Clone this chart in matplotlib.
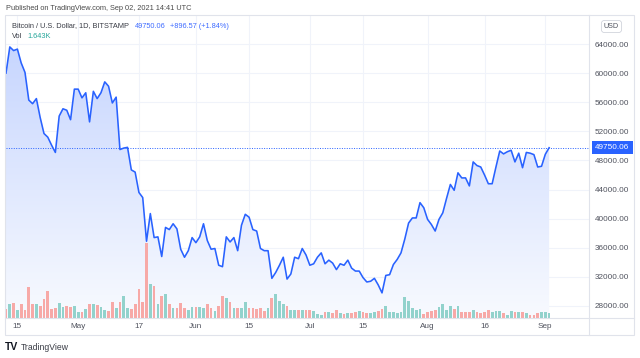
import numpy as np
import pandas as pd
import matplotlib
matplotlib.use("Agg")
import matplotlib.pyplot as plt
import matplotlib.dates as mdates
from matplotlib.colors import LinearSegmentedColormap
from matplotlib.patches import Rectangle
from matplotlib.lines import Line2D

plt.rcParams['font.family'] = ['Liberation Sans', 'DejaVu Sans']

W, H = 640, 358

# daily closes BTC/USD (Bitstamp), 12 Apr - 2 Sep 2021
dates = pd.date_range('2021-04-12', '2021-09-02', freq='D')
close = [
    # Apr 12-30
    60000, 63600, 63100, 63300, 61400, 60100, 56300, 55800, 56500, 53900,
    51700, 51200, 50100, 49100, 54100, 55100, 54900, 53600, 57800,
    # May
    57800, 56600, 57300, 53300, 57500, 56500, 57300, 58800, 58200, 55900,
    56700, 49500, 49700, 49800, 46700, 46400, 43600, 42900, 36900, 40700,
    37400, 37500, 34800, 38800, 38500, 39300, 38600, 35800, 34700, 35600, 37400,
    # Jun
    36700, 37500, 39300, 37000, 35800, 35900, 33600, 33400, 37500, 36800,
    37400, 35600, 39100, 40600, 40200, 38500, 38300, 35900, 35600, 35600,
    31800, 32600, 33600, 34700, 31700, 32400, 34700, 34500, 35900, 35000,
    # Jul
    33600, 33800, 34700, 35300, 33800, 34300, 33900, 33000, 33800, 33600,
    34300, 33200, 32800, 32800, 31900, 31300, 31400, 31800, 30900, 29800,
    32200, 32300, 33700, 34400, 35300, 37200, 39400, 40100, 40100, 42200, 41500,
    # Aug
    39900, 39200, 38300, 39900, 40800, 42800, 44700, 43900, 46300, 45600,
    45600, 44500, 47800, 47300, 47100, 46000, 44800, 44800, 47100, 49300,
    48900, 49200, 49400, 47800, 49000, 47000, 49100, 49000, 48800, 47100, 47200,
    # Sep
    48850, 49750.06,
]
# volume in thousands of BTC
volume = [
    3.0, 4.6, 5.0, 2.6, 4.6, 2.6, 10.2, 4.6, 4.6, 4.0, 6.3, 8.9, 3.0, 3.3, 5.0, 3.6, 4.0, 3.6, 4.0,
    2.0, 2.0, 3.0, 4.6, 4.6, 4.3, 3.6, 2.6, 2.3, 5.3, 3.3, 5.3, 7.3, 3.3, 3.0, 4.6, 9.6, 5.3, 24.8, 11.2,
    10.6, 4.6, 7.3, 7.9, 4.6, 3.3, 3.3, 5.0, 3.3, 2.6, 3.6,
    3.6, 3.6, 3.3, 4.6, 3.3, 2.3, 4.0, 7.3, 6.6, 5.3, 3.3, 3.3, 3.3, 5.3, 3.3, 3.3, 3.0, 3.3, 2.3, 3.3,
    6.6, 7.9, 5.6, 4.6, 4.0, 2.6, 2.6, 2.6, 2.6, 2.6,
    2.6, 2.3, 1.3, 1.0, 2.0, 2.0, 1.6, 2.6, 1.6, 1.3, 1.6, 1.6, 2.0, 2.3, 2.0, 1.6, 1.6, 2.0, 2.3, 3.0,
    4.0, 2.0, 2.0, 1.6, 2.0, 6.9, 5.6, 3.3, 2.6, 3.0, 1.3,
    2.0, 2.3, 2.6, 3.6, 4.6, 2.6, 4.0, 3.0, 4.0, 2.0, 2.0, 2.0, 2.6, 2.0, 1.6, 2.0, 2.6, 2.0, 2.3, 2.3,
    1.6, 1.0, 2.3, 2.0, 2.0, 2.0, 1.6, 1.0, 1.0, 1.6, 2.0,
    2.0, 1.643,
]
# u = up day (green volume), d = down day (red volume), one letter per day
dir_apr = "dudu" + "dddd" + "u" + "ddddd" + "uu" + "dd" + "u"
dir_may = ("ududud" + "uu" + "dd" + "u" + "d" + "uu" + "ddddd" + "u" + "d" + "u" + "d"
           + "u" + "d" + "u" + "ddd" + "uu")
dir_jun = ("d" + "uu" + "dd" + "u" + "dd" + "u" + "d" + "u" + "d" + "uu" + "ddddd" + "u"
           + "d" + "uuu" + "d" + "uu" + "d" + "u" + "d")
dir_jul = ("d" + "uuu" + "d" + "u" + "dd" + "u" + "d" + "u" + "dd" + "u" + "dd" + "uu"
           + "dd" + "uuuuuuuuuu" + "d")
dir_aug = ("ddd" + "uuuu" + "d" + "u" + "ddd" + "u" + "dddd" + "uuu" + "d" + "uu" + "d"
           + "u" + "d" + "u" + "ddd" + "u")
dir_sep = "uu"
direction = dir_apr + dir_may + dir_jun + dir_jul + dir_aug + dir_sep

tick_dates = ['2021-04-15', '2021-05-01', '2021-05-17', '2021-06-01', '2021-06-15',
              '2021-07-01', '2021-07-15', '2021-08-01', '2021-08-16', '2021-09-01']
tick_labels = ['15', 'May', '17', 'Jun', '15', 'Jul', '15', 'Aug', '16', 'Sep']
price_ticks = [28000, 32000, 36000, 40000, 44000, 48000, 52000, 56000, 60000, 64000]
last_price = 49750.06

BLUE = '#2962FF'
GRID = '#F0F3FA'
BORDER = '#E0E3EB'
TEXT = '#50535E'
UP = '#92D2CC'
DOWN = '#F7A9A7'


def fx(x):
    return x / W


def fy(y):
    return 1 - y / H


fig = plt.figure(figsize=(6.4, 3.58), dpi=100)
fig.patch.set_facecolor('white')

ax = fig.add_axes([fx(6), fy(318), (589 - 6) / W, (318 - 16) / H])
xnum = mdates.date2num(dates)
x0 = xnum[0]
x1 = x0 + 153.5
y0, y1 = 26350, 67850

# gradient area under the line
poly = ax.fill_between(xnum, close, y0, color='none', lw=0)
grad = np.linspace(0, 1, 256).reshape(-1, 1)
cmap = LinearSegmentedColormap.from_list('area', ['#F8FAFF', '#C6D5FE'])
img = ax.imshow(grad, cmap=cmap, aspect='auto', origin='lower',
                extent=[x0, x1, y0, 64500], zorder=1)
img.set_clip_path(poly.get_paths()[0], transform=ax.transData)

ax.set_xlim(x0, x1)
ax.set_ylim(y0, y1)
ax.set_facecolor('white')
for s in ax.spines.values():
    s.set_visible(False)
ax.grid(True, color=GRID, lw=0.8)
ax.set_axisbelow(True)

# volume pane on its own scale
axv = ax.twinx()
colors = [UP if d == 'u' else DOWN for d in direction]
axv.bar(xnum, volume, width=0.72, color=colors, zorder=2)
axv.set_ylim(0, 100)
axv.set_xlim(x0, x1)
axv.axis('off')

# ticks (after twinx, which moves the price ticks to the left)
ax.yaxis.tick_right()
ax.set_yticks(price_ticks)
ax.set_yticklabels([f'{p:.2f}' for p in price_ticks])
ax.set_xticks(mdates.date2num(pd.to_datetime(tick_dates)))
ax.set_xticklabels(tick_labels)
ax.tick_params(axis='y', length=0, pad=4.3, labelsize=5.9, labelcolor=TEXT)
ax.tick_params(axis='x', length=0, pad=3.5, labelsize=5.9, labelcolor=TEXT)

# price line and last price line on top
axv.plot(xnum, close, color=BLUE, lw=1.15, transform=ax.transData, zorder=4,
         solid_joinstyle='round')
axv.plot([x0, x1], [last_price, last_price], color=BLUE, lw=0.7, ls=(0, (1, 1.5)),
         transform=ax.transData, zorder=3)
axv.set_xlim(x0, x1)

ax.text(1.0105, last_price, f'{last_price:.2f}', transform=ax.get_yaxis_transform(),
        ha='left', va='center', fontsize=5.9, color='white', clip_on=False,
        bbox=dict(boxstyle='square,pad=0.4', fc=BLUE, ec='none'))

# frame
fig.add_artist(Rectangle((fx(5), fy(335)), (634 - 5) / W, (335 - 15) / H,
                         transform=fig.transFigure, fill=False, ec=BORDER, lw=0.8))
fig.add_artist(Line2D([fx(589), fx(589)], [fy(15), fy(335)], color=BORDER, lw=0.8))
fig.add_artist(Line2D([fx(5), fx(634)], [fy(318), fy(318)], color=BORDER, lw=0.8))

# header texts
HS = 5.35
fig.text(fx(6), fy(8), 'Published on TradingView.com, Sep 02, 2021 14:41 UTC',
         fontsize=HS, color='#4A4A4A', va='center', ha='left')
fig.text(fx(12), fy(26), 'Bitcoin / U.S. Dollar, 1D, BITSTAMP',
         fontsize=HS, color='#3A3D46', va='center', ha='left')
fig.text(fx(135), fy(26), '49750.06', fontsize=HS, color='#3F6CFF',
         va='center', ha='left')
fig.text(fx(170), fy(26), '+896.57 (+1.84%)', fontsize=HS,
         color='#3F6CFF', va='center', ha='left')
fig.text(fx(12), fy(37), 'Vol', fontsize=HS, color='#3A3D46',
         va='center', ha='left')
fig.text(fx(27), fy(37), '1.643K', fontsize=HS, color='#26A69A',
         va='center', ha='left')

fig.text(fx(611.5), fy(26.5), 'USD', fontsize=5.2, color=TEXT, va='center', ha='center',
         bbox=dict(boxstyle='round,pad=0.35,rounding_size=0.4', fc='white', ec='#D1D4DC', lw=0.6))

# logo
fig.text(fx(5), fy(347), 'TV', fontsize=7.5, color='#131722', weight='heavy',
         va='center', ha='left')
fig.text(fx(21), fy(347), 'TradingView', fontsize=6.2, color='#3A3D46',
         va='center', ha='left')

fig.savefig('out.png', dpi=100)
